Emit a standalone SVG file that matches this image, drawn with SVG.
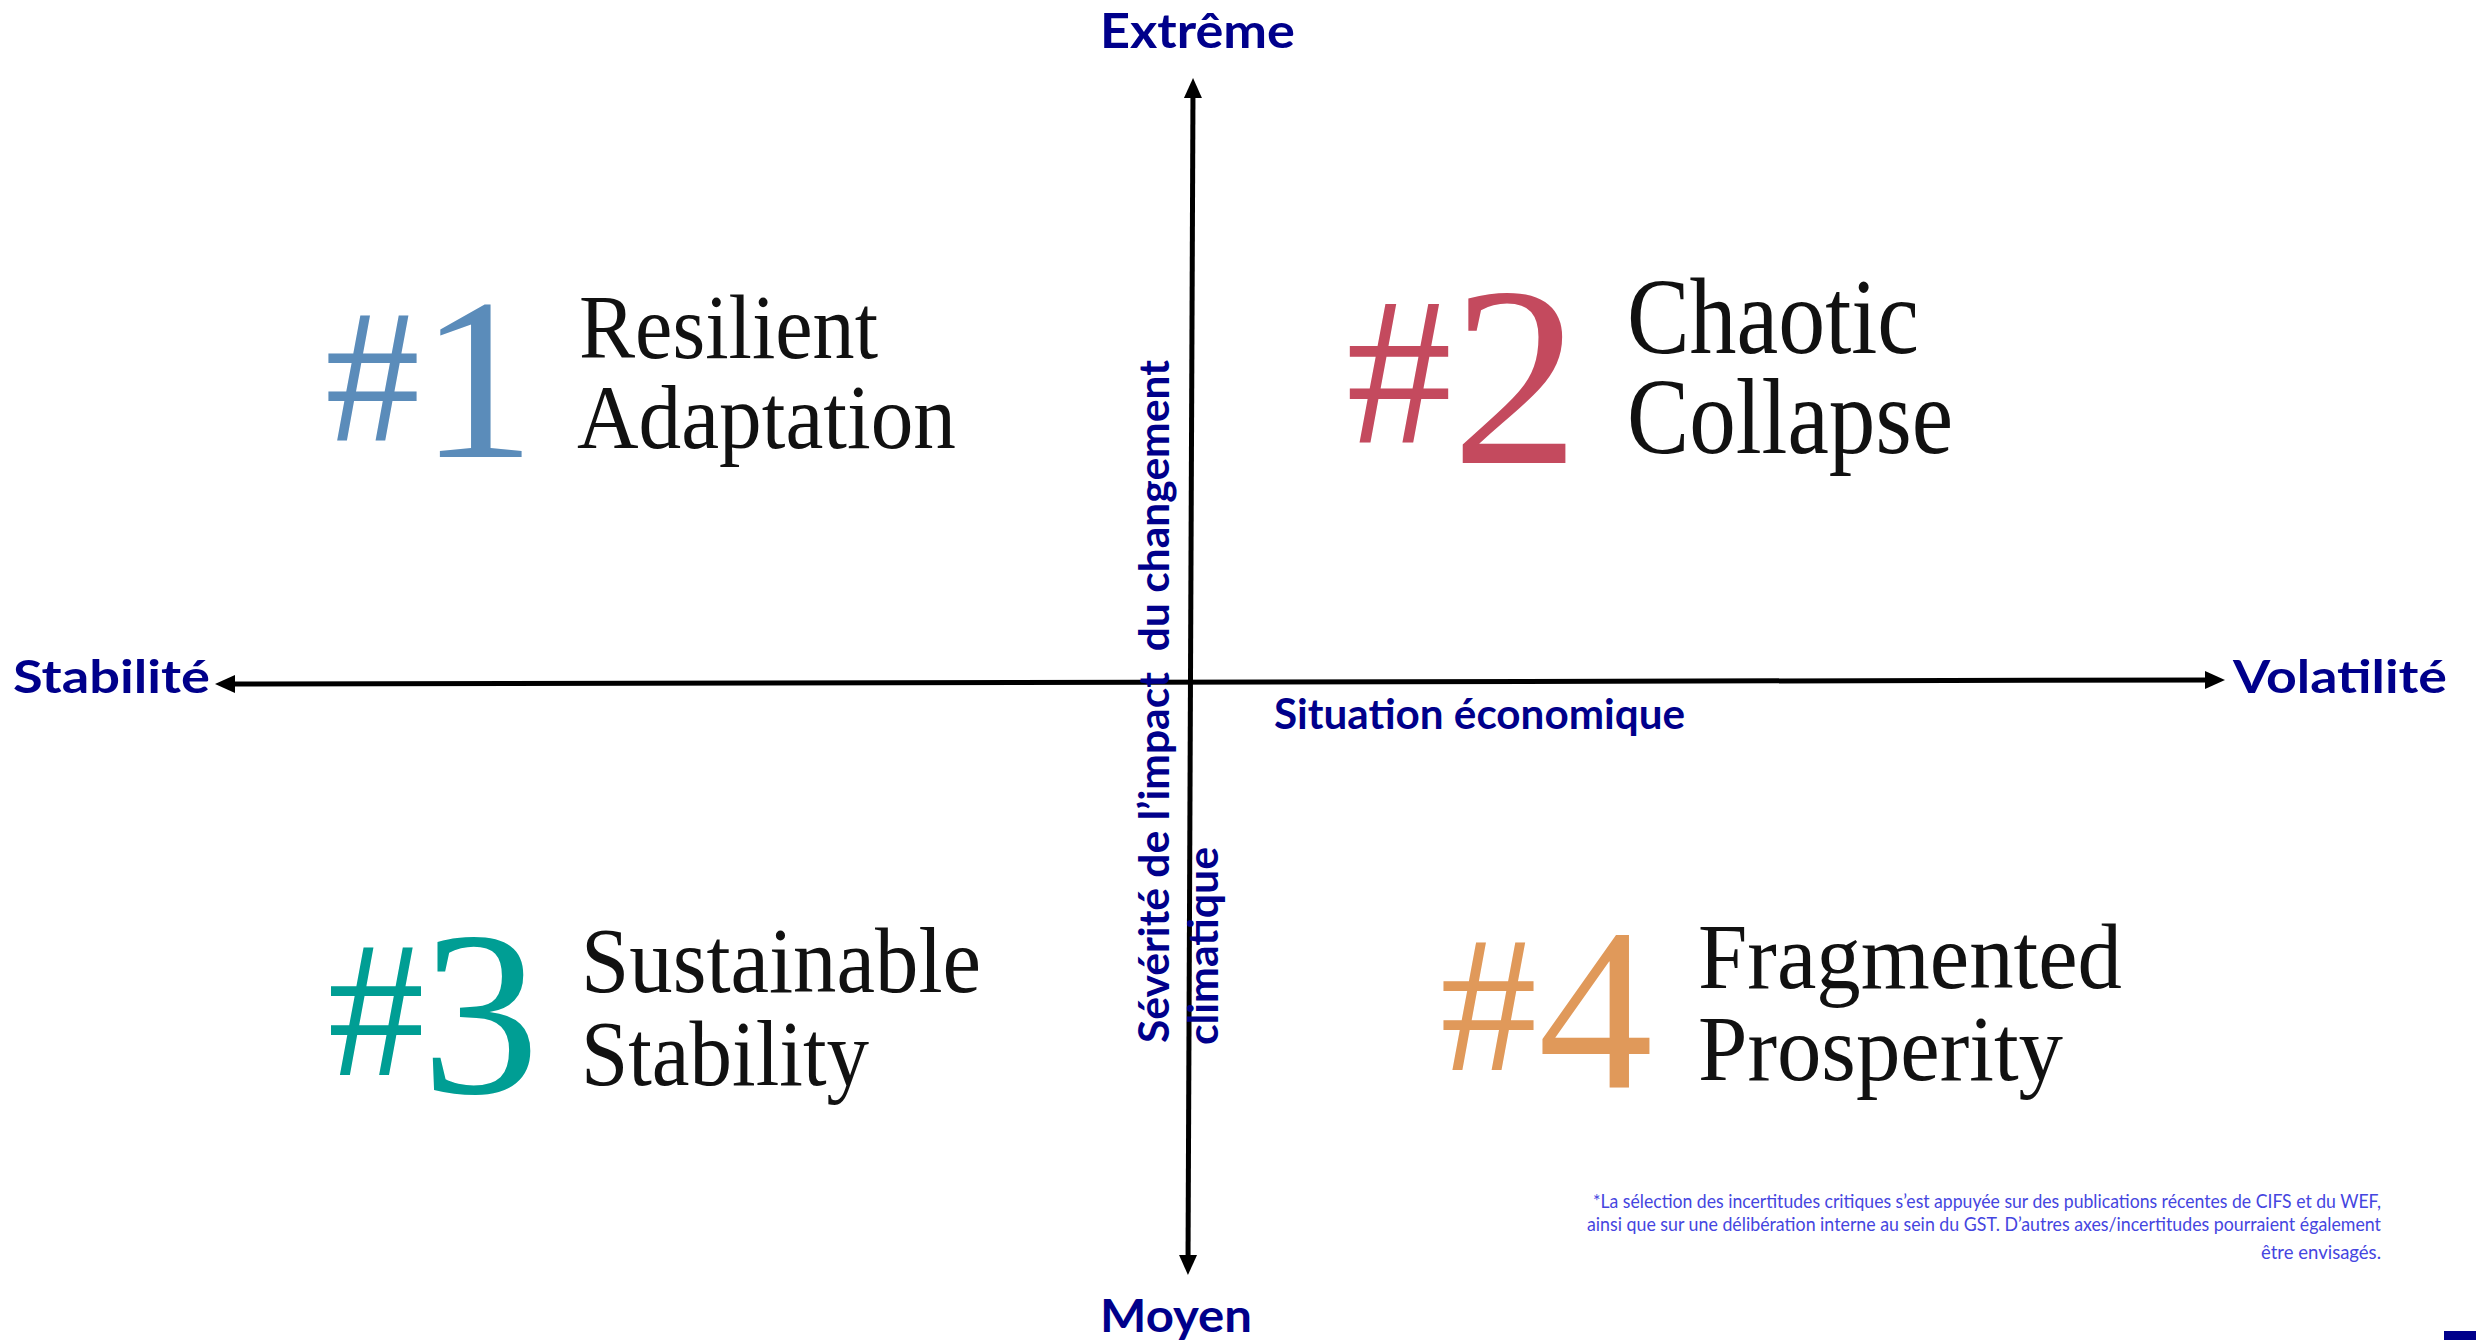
<svg xmlns="http://www.w3.org/2000/svg" width="2476" height="1340" viewBox="0 0 2476 1340">
<style>
.ax{font-family:"Lato","Open Sans","Liberation Sans",sans-serif;font-weight:700;fill:#00008b}
.ttl{font-family:"Liberation Serif","Times New Roman",serif;fill:#111}
.num{font-family:"Liberation Serif","Times New Roman",serif;text-anchor:middle}
.note{font-family:"Lato","Open Sans","Liberation Sans",sans-serif;font-size:19px;fill:#4545e0;text-anchor:end}
.axis{stroke:#000;stroke-width:5;fill:none}
</style>
<defs>
<marker id="arr" viewBox="0 0 20 20" refX="10" refY="10" markerWidth="20" markerHeight="20" markerUnits="userSpaceOnUse" orient="auto-start-reverse">
<path d="M0,1 L20,10 L0,19 z" fill="#000"/>
</marker>
</defs>
<rect width="2476" height="1340" fill="#fff"/>

<g id="connectors">
<line class="axis" x1="1193" y1="88" x2="1188" y2="1265" marker-start="url(#arr)" marker-end="url(#arr)"/>
<line class="axis" x1="225" y1="684" x2="2215" y2="680" marker-start="url(#arr)" marker-end="url(#arr)"/>
</g>

<g id="label-extreme"><text class="ax" x="1100" y="48" font-size="48" textLength="195" lengthAdjust="spacingAndGlyphs">Extrême</text></g>
<g id="label-moyen"><text class="ax" x="1100" y="1332" font-size="46" textLength="152" lengthAdjust="spacingAndGlyphs">Moyen</text></g>
<g id="label-stabilite"><text class="ax" x="13" y="693" font-size="46" textLength="197" lengthAdjust="spacingAndGlyphs">Stabilité</text></g>
<g id="label-volatilite"><text class="ax" x="2233" y="693" font-size="46" textLength="214" lengthAdjust="spacingAndGlyphs">Volatilité</text></g>
<g id="label-situation"><text class="ax" x="1274" y="729" font-size="42" textLength="411" lengthAdjust="spacingAndGlyphs">Situation économique</text></g>
<g id="label-severite">
<text class="ax" font-size="42" transform="translate(1169,1043) rotate(-90)" x="0" y="0" textLength="683" lengthAdjust="spacingAndGlyphs" xml:space="preserve">Sévérité de l’impact  du changement</text>
<text class="ax" font-size="42" transform="translate(1218,1045) rotate(-90)" x="0" y="0" textLength="198" lengthAdjust="spacingAndGlyphs">climatique</text>
</g>

<g id="scenario-1">
<text class="num" fill="#5b8cba"><tspan x="372.5" y="440" font-size="190">#</tspan><tspan x="477.5" y="457" font-size="232">1</tspan></text>
<text class="ttl" font-size="92"><tspan x="579" y="358" textLength="299" lengthAdjust="spacingAndGlyphs">Resilient</tspan><tspan x="577" y="448" textLength="379" lengthAdjust="spacingAndGlyphs">Adaptation</tspan></text>
</g>

<g id="scenario-2">
<text class="num" fill="#c44a5e"><tspan x="1399" y="443" font-size="212">#</tspan><tspan x="1515.5" y="463" font-size="256">2</tspan></text>
<text class="ttl" font-size="108"><tspan x="1627" y="353" textLength="292" lengthAdjust="spacingAndGlyphs">Chaotic</tspan><tspan x="1627" y="453" textLength="326" lengthAdjust="spacingAndGlyphs">Collapse</tspan></text>
</g>

<g id="scenario-3">
<text class="num" fill="#009e94"><tspan x="376" y="1075" font-size="194">#</tspan><tspan x="480.5" y="1093" font-size="236">3</tspan></text>
<text class="ttl" font-size="94"><tspan x="581" y="992" textLength="400" lengthAdjust="spacingAndGlyphs">Sustainable</tspan><tspan x="581" y="1085" textLength="288" lengthAdjust="spacingAndGlyphs">Stability</tspan></text>
</g>

<g id="scenario-4">
<text class="num" fill="#e0995a"><tspan x="1488.5" y="1070" font-size="194">#</tspan><tspan x="1595.5" y="1087" font-size="230">4</tspan></text>
<text class="ttl" font-size="93"><tspan x="1698" y="988" textLength="424" lengthAdjust="spacingAndGlyphs">Fragmented</tspan><tspan x="1698" y="1080" textLength="365" lengthAdjust="spacingAndGlyphs">Prosperity</tspan></text>
</g>

<g id="footnote">
<text class="note" x="2381" y="1208" textLength="788" lengthAdjust="spacingAndGlyphs">*La sélection des incertitudes critiques s’est appuyée sur des publications récentes de CIFS et du WEF,</text>
<text class="note" x="2381" y="1231" textLength="794" lengthAdjust="spacingAndGlyphs">ainsi que sur une délibération interne au sein du GST. D’autres axes/incertitudes pourraient également</text>
<text class="note" x="2381" y="1259" textLength="120" lengthAdjust="spacingAndGlyphs">être envisagés.</text>
</g>

<rect id="corner-mark" x="2444" y="1331" width="32" height="9" fill="#00008b"/>
</svg>
